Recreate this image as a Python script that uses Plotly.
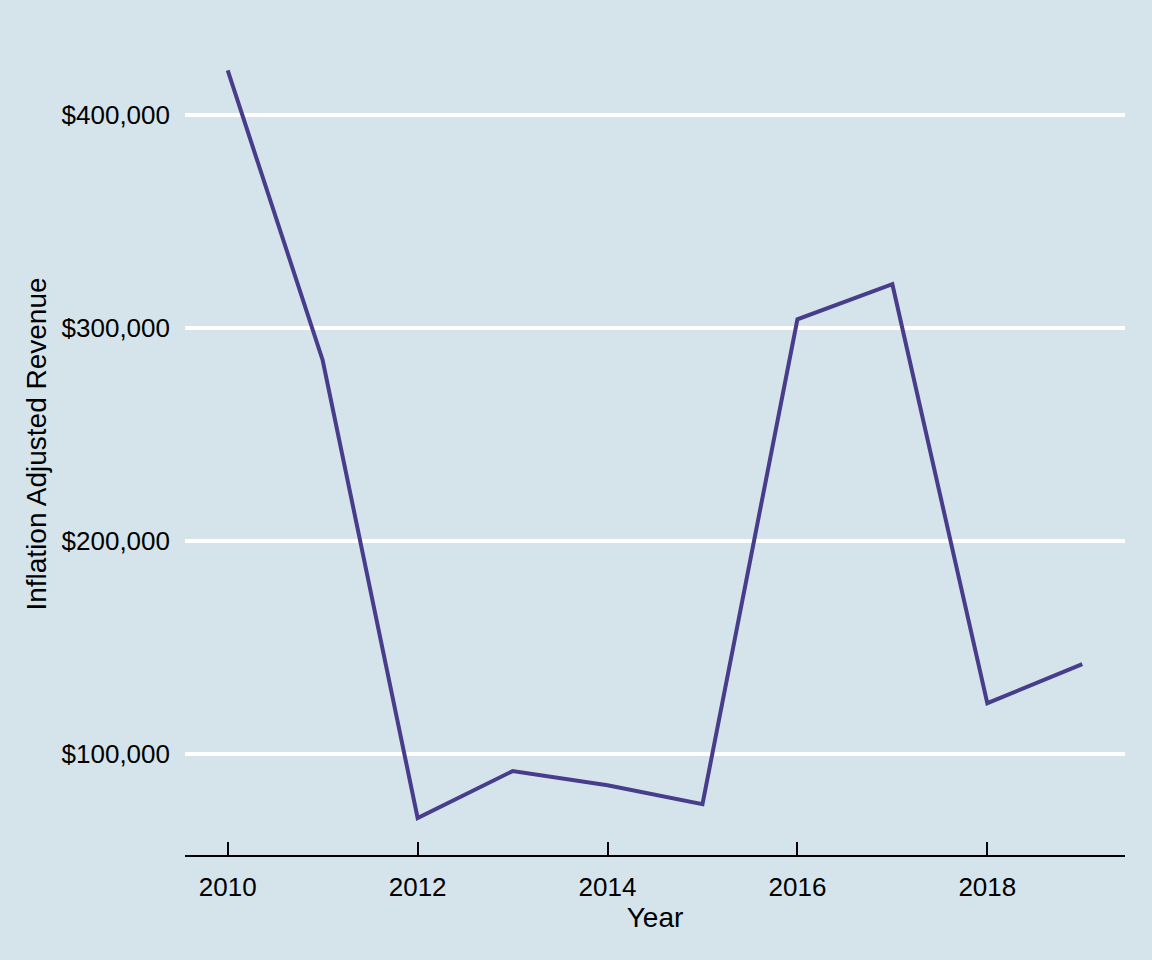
import plotly.graph_objects as go

# Inflation adjusted revenue per year
years = [2010, 2011, 2012, 2013, 2014, 2015, 2016, 2017, 2018, 2019]
revenue = [421100, 285000, 70000, 92000, 85400, 76500, 304200, 320700, 123900, 142300]

y_ticks = [100000, 200000, 300000, 400000]
x_ticks = [2010, 2012, 2014, 2016, 2018]

bg = '#D5E4EB'
font_family = 'Liberation Sans, Arial, sans-serif'

fig = go.Figure()

fig.add_trace(go.Scatter(
    x=years,
    y=revenue,
    mode='lines',
    line=dict(color='#483D8B', width=4),
    showlegend=False
))

fig.update_layout(
    width=1152,
    height=960,
    paper_bgcolor=bg,
    plot_bgcolor=bg,
    font=dict(family=font_family, size=26, color='black'),
    margin=dict(l=185, r=27, t=33, b=105),
    xaxis=dict(
        range=[2009.55, 2019.45],
        tickvals=x_ticks,
        ticks='inside',
        ticklen=13,
        tickwidth=2,
        tickcolor='black',
        showline=True,
        linecolor='black',
        linewidth=2,
        showgrid=False,
        zeroline=False,
        ticklabelstandoff=8,
        title=dict(text='Year', standoff=0, font=dict(size=28)),
    ),
    yaxis=dict(
        range=[52600, 438700],
        tickvals=y_ticks,
        tickformat='$,',
        showgrid=True,
        gridcolor='white',
        gridwidth=3.5,
        zeroline=False,
        showline=False,
        ticks='',
        ticklabelstandoff=14,
        title=dict(text='Inflation Adjusted Revenue', standoff=6, font=dict(size=28)),
    ),
)

# drop the default page margin so the figure sits at the top-left corner
fig.write_html("out.html", config={'displayModeBar': False},
               post_script="document.body.style.margin='0';")
